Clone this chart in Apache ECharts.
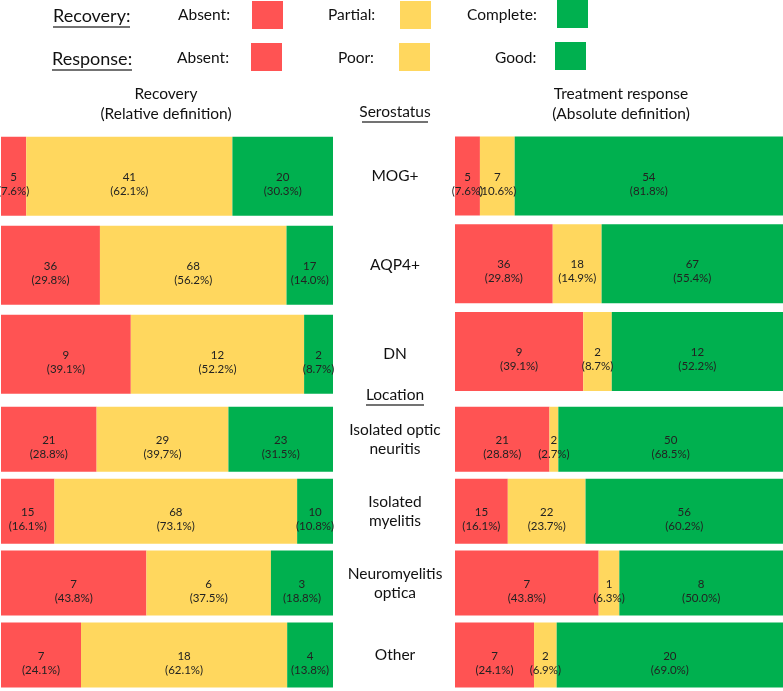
<!DOCTYPE html>
<html>
<head>
<meta charset="utf-8">
<script src="https://cdn.jsdelivr.net/npm/echarts@6/dist/echarts.min.js"></script>
<style>
  html, body { margin: 0; padding: 0; background: #fff; }
  #main { width: 783px; height: 691px; }
</style>
</head>
<body>
<div id="main"></div>
<script>
// groups, top 3 = serostatus, bottom 4 = location
var groups = ['MOG+', 'AQP4+', 'DN', 'Isolated optic\nneuritis', 'Isolated\nmyelitis', 'Neuromyelitis\noptica', 'Other'];

// Recovery (relative definition)
var recAbsentN = [5, 36, 9, 21, 15, 7, 7];
var recAbsentPct = ['7.6', '29.8', '39.1', '28.8', '16.1', '43.8', '24.1'];
var recPartialN = [41, 68, 12, 29, 68, 6, 18];
var recPartialPct = ['62.1', '56.2', '52.2', '39,7', '73.1', '37.5', '62.1'];
var recCompleteN = [20, 17, 2, 23, 10, 3, 4];
var recCompletePct = ['30.3', '14.0', '8.7', '31.5', '10.8', '18.8', '13.8'];

// Treatment response (absolute definition)
var resAbsentN = [5, 36, 9, 21, 15, 7, 7];
var resAbsentPct = ['7.6', '29.8', '39.1', '28.8', '16.1', '43.8', '24.1'];
var resPoorN = [7, 18, 2, 2, 22, 1, 2];
var resPoorPct = ['10.6', '14.9', '8.7', '2.7', '23.7', '6.3', '6.9'];
var resGoodN = [54, 67, 12, 50, 56, 8, 20];
var resGoodPct = ['81.8', '55.4', '52.2', '68.5', '60.2', '50.0', '69.0'];

var RED = '#FF5353', YELLOW = '#FFD75E', GREEN = '#00B04F';
var FONT = 'Lato, "Open Sans", sans-serif';

var chart = echarts.init(document.getElementById('main'));

/**
 * one stacked bar series for a grid, rows from..to of the arrays
 */
function makeSeries(name, idx, counts, pcts, color, from, to, barW) {
    var data = [];
    for (var i = from; i < to; i++) {
        data.push({
            value: parseFloat(pcts[i].replace(',', '.')),
            n: counts[i],
            pct: pcts[i]
        });
    }
    return {
        name: name,
        type: 'bar',
        stack: 'g' + idx,
        xAxisIndex: idx,
        yAxisIndex: idx,
        barWidth: barW,
        itemStyle: { color: color },
        label: {
            show: true,
            position: 'inside',
            offset: [0, 8],
            color: '#222',
            fontSize: 11.5,
            lineHeight: 14,
            fontFamily: FONT,
            formatter: function (p) {
                return p.data.n + '\n(' + p.data.pct + '%)';
            }
        },
        data: data
    };
}

var grids = [
    { left: 1, width: 332, top: 131.7, height: 267 },   // recovery, serostatus
    { left: 1, width: 332, top: 403.2, height: 290.8 }, // recovery, location
    { left: 455, width: 328, top: 132.1, height: 263.3 }, // response, serostatus
    { left: 455, width: 328, top: 403.3, height: 289.3 }  // response, location
];

var xAxes = [], yAxes = [];
grids.forEach(function (g, i) {
    xAxes.push({ type: 'value', gridIndex: i, min: 0, max: 100, show: false });
    var top = (i % 2 === 0);
    var cats = top ? groups.slice(0, 3) : groups.slice(3);
    yAxes.push({
        type: 'category',
        gridIndex: i,
        inverse: true,
        position: 'right',
        data: cats,
        axisLine: { show: false },
        axisTick: { show: false },
        splitLine: { show: false },
        axisLabel: {
            show: i < 2,
            margin: 62,
            align: 'center',
            color: '#111',
            fontSize: 15.5,
            lineHeight: 19,
            padding: [top ? 0 : 5, 0, 0, 0],
            fontFamily: FONT
        }
    });
});

var series = [];
[[0, 3, 79], [3, 7, 65]].forEach(function (r, k) {
    var gl = k, gr = k + 2;
    series.push(makeSeries('Absent', gl, recAbsentN, recAbsentPct, RED, r[0], r[1], r[2]));
    series.push(makeSeries('Partial', gl, recPartialN, recPartialPct, YELLOW, r[0], r[1], r[2]));
    series.push(makeSeries('Complete', gl, recCompleteN, recCompletePct, GREEN, r[0], r[1], r[2]));
    series.push(makeSeries('Absent', gr, resAbsentN, resAbsentPct, RED, r[0], r[1], r[2]));
    series.push(makeSeries('Poor', gr, resPoorN, resPoorPct, YELLOW, r[0], r[1], r[2]));
    series.push(makeSeries('Good', gr, resGoodN, resGoodPct, GREEN, r[0], r[1], r[2]));
});

function txt(x, y, s, size, align) {
    return {
        type: 'text', x: x, y: y,
        style: {
            text: s, fill: '#111', fontSize: size, fontFamily: FONT,
            align: align || 'left', verticalAlign: 'middle', lineHeight: size + 4
        }
    };
}
function uline(x1, x2, y) {
    return { type: 'line', shape: { x1: x1, y1: y, x2: x2, y2: y }, style: { stroke: '#444', lineWidth: 1.5 } };
}
function box(x, y, c) {
    return { type: 'rect', shape: { x: x, y: y, width: 31, height: 28 }, style: { fill: c } };
}

var graphics = [
    // legend
    txt(53, 16, 'Recovery:', 18), uline(53, 130, 27),
    txt(178, 15, 'Absent:', 15.5), box(252, 1, RED),
    txt(328, 15, 'Partial:', 15.5), box(400, 1, YELLOW),
    txt(467, 15, 'Complete:', 15.5), box(557, 0, GREEN),
    txt(52, 59, 'Response:', 18), uline(52, 132, 70),
    txt(177, 58, 'Absent:', 15.5), box(251, 43, RED),
    txt(338, 58, 'Poor:', 15.5), box(399, 43, YELLOW),
    txt(495, 58, 'Good:', 15.5), box(555, 42, GREEN),
    // panel titles
    txt(166, 104, 'Recovery\n(Relative definition)', 15.5, 'center'),
    txt(621, 104, 'Treatment response\n(Absolute definition)', 15.5, 'center'),
    txt(395, 112, 'Serostatus', 15.5, 'center'), uline(362, 428, 122),
    txt(395, 395, 'Location', 15.5, 'center'), uline(366, 424, 405)
];

var option = {
    animation: false,
    grid: grids,
    xAxis: xAxes,
    yAxis: yAxes,
    series: series,
    graphic: graphics
};

option && chart.setOption(option);
</script>
</body>
</html>
